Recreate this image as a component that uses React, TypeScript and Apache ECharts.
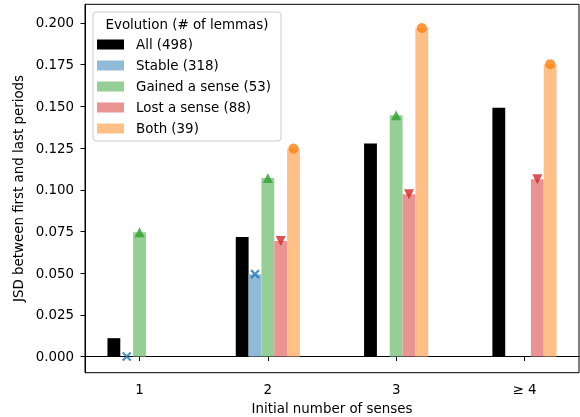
import React, { useEffect, useRef } from "react";
import * as echarts from "echarts";

const categories = ["1", "2", "3", "≥ 4"];
const positions = [1, 2, 3, 4];
const seriesNames = ["All (498)", "Stable (318)", "Gained a sense (53)", "Lost a sense (88)", "Both (39)"];
const allValues: (number | null)[] = [0.011, 0.0717, 0.1278, 0.1491];
const stableValues: (number | null)[] = [0.0, 0.0494, null, null];
const gainedValues: (number | null)[] = [0.0745, 0.107, 0.1447, null];
const lostValues: (number | null)[] = [null, 0.0693, 0.0973, 0.1063];
const bothValues: (number | null)[] = [null, 0.1247, 0.197, 0.1753];
const yTicks = [0, 0.025, 0.05, 0.075, 0.1, 0.125, 0.15, 0.175, 0.2];

const barColors = ["#000000", "#8fbbd9", "#95cf95", "#ea9393", "#ffbf86"];
const markerColors = [null, "#1f77b4", "#2ca02c", "#d62728", "#ff7f0e"];
const markerSymbols = [null, "path://M0,0L10,10M10,0L0,10", "triangle", "triangle", "circle"];
const markerRotate = [0, 0, 0, 180, 0];
const markerSizes = [0, 8, 10, 10, 10];

const FONT = "DejaVu Sans";
const FS = 13.4;
const BAR_W_UNITS = 0.1;

export default function App() {
  const ref = useRef<HTMLDivElement>(null);
  useEffect(() => {
    if (!ref.current) return;
    const chart = echarts.init(ref.current, null, { renderer: "svg" });
    const valueSets = [allValues, stableValues, gainedValues, lostValues, bothValues];
    const xMin = 0.575;
    const xMax = 4.425;
    const gridLeft = 85;
    const gridRight = 1;
    const plotW = 580 - gridLeft - gridRight;
    const barPx = (BAR_W_UNITS * plotW) / (xMax - xMin);

    const barSeries = valueSets.map((vals, si) => ({
      type: "bar",
      name: seriesNames[si],
      barWidth: barPx,
      barGap: "0%",
      itemStyle: { color: barColors[si] },
      z: 2,
      data: positions
        .map((p, i) => (vals[i] == null ? null : [p, vals[i]]))
        .filter((d) => d !== null),
    }));

    const scatterSeries = valueSets
      .map((vals, si) => {
        if (!markerSymbols[si]) return null;
        const off = (si - 2) * BAR_W_UNITS;
        const isX = si === 1;
        return {
          type: "scatter",
          name: "marker-" + si,
          symbol: markerSymbols[si],
          symbolSize: markerSizes[si],
          symbolRotate: markerRotate[si],
          itemStyle: isX
            ? { color: "none", borderColor: markerColors[si], borderWidth: 2.2 }
            : { color: markerColors[si] },
          z: 5,
          data: positions
            .map((p, i) => (vals[i] == null ? null : [p + off, vals[i]]))
            .filter((d) => d !== null),
        };
      })
      .filter((s) => s !== null);

    chart.setOption({
      animation: false,
      textStyle: { fontFamily: FONT },
      grid: {
        left: gridLeft,
        right: gridRight,
        top: 4.3,
        bottom: 44.3,
        outerBoundsMode: "none",
        containLabel: false,
        show: true,
        borderColor: "#000",
        borderWidth: 1,
        backgroundColor: "transparent",
      },
      xAxis: {
        type: "value",
        min: xMin,
        max: xMax,
        splitLine: { show: false },
        axisLine: { show: true, lineStyle: { color: "#000", width: 1 } },
        axisTick: { show: true, length: 4.5, lineStyle: { color: "#000" }, customValues: positions },
        axisLabel: {
          customValues: positions,
          color: "#000",
          fontFamily: FONT,
          fontSize: FS,
          margin: 10,
          formatter: (v: number) => {
            const i = positions.indexOf(Math.round(v));
            return i >= 0 ? categories[i] : "";
          },
        },
        name: "Initial number of senses",
        nameLocation: "middle",
        nameGap: 29,
        nameTextStyle: { color: "#000", fontFamily: FONT, fontSize: FS },
      },
      yAxis: {
        type: "value",
        min: -0.0097,
        max: 0.2112,
        splitLine: { show: false },
        axisLine: { show: true, lineStyle: { color: "#000", width: 1 } },
        axisTick: { show: true, length: 4.5, lineStyle: { color: "#000" }, customValues: yTicks },
        axisLabel: {
          customValues: yTicks,
          color: "#000",
          fontFamily: FONT,
          fontSize: FS,
          margin: 11,
          formatter: (v: number) => v.toFixed(3),
        },
        name: "JSD between first and last periods",
        nameLocation: "middle",
        nameGap: 53,
        nameTextStyle: { color: "#000", fontFamily: FONT, fontSize: FS },
      },
      legend: {
        data: seriesNames,
        orient: "vertical",
        left: 97,
        top: 38,
        padding: 0,
        itemWidth: 27,
        itemHeight: 10,
        itemGap: 8,
        icon: "rect",
        textStyle: { color: "#000", fontFamily: FONT, fontSize: FS, padding: [0, 0, 0, 7] },
        z: 10,
      },
      graphic: [
        {
          type: "rect",
          z: 8,
          shape: { x: 93, y: 12, width: 188, height: 129, r: 3 },
          style: { fill: "rgba(255,255,255,0.8)", stroke: "#cccccc", lineWidth: 1 },
        },
        {
          type: "text",
          z: 9,
          x: 187,
          y: 24,
          style: {
            text: "Evolution (# of lemmas)",
            fill: "#000",
            font: `${FS}px "${FONT}"`,
            textAlign: "center",
            textVerticalAlign: "middle",
          },
        },
      ],
      series: [...barSeries, ...scatterSeries],
    });
    return () => chart.dispose();
  }, []);
  return <div ref={ref} style={{ width: 580, height: 417, position: "fixed", left: 0, top: 0 }} />;
}
